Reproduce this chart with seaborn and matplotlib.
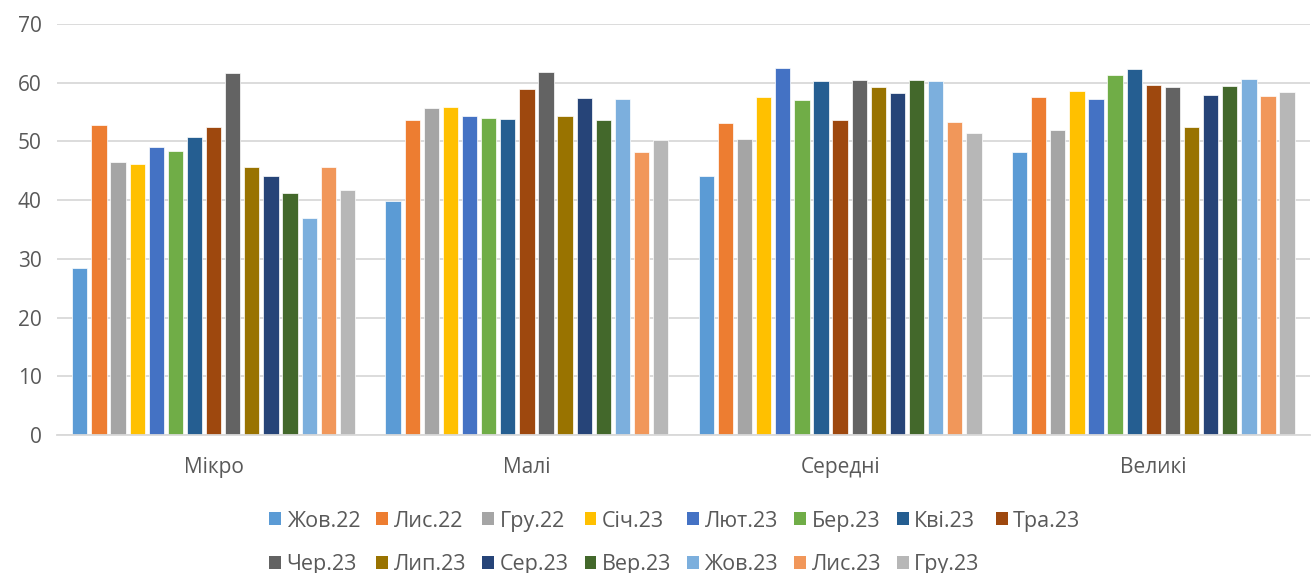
import matplotlib
matplotlib.use("Agg")
import matplotlib.pyplot as plt
import seaborn as sns
import pandas as pd
from matplotlib.patches import Patch

categories = ["Мікро", "Малі", "Середні", "Великі"]
months = ["Жов.22", "Лис.22", "Гру.22", "Січ.23", "Лют.23", "Бер.23", "Кві.23", "Тра.23",
          "Чер.23", "Лип.23", "Сер.23", "Вер.23", "Жов.23", "Лис.23", "Гру.23"]
mikro = [28.5, 52.8, 46.5, 46.2, 49.1, 48.4, 50.8, 52.4, 61.7, 45.6, 44.2, 41.3, 37.0, 45.6, 41.8]
mali = [39.8, 53.6, 55.7, 55.8, 54.4, 54.0, 53.9, 59.0, 61.9, 54.3, 57.4, 53.7, 57.3, 48.2, 50.3]
seredni = [44.2, 53.1, 50.5, 57.5, 62.6, 57.1, 60.3, 53.7, 60.5, 59.3, 58.3, 60.4, 60.3, 53.4, 51.5]
velyki = [48.2, 57.5, 52.0, 58.6, 57.3, 61.3, 62.4, 59.6, 59.2, 52.5, 58.0, 59.5, 60.7, 57.8, 58.5]
colors = ["#5B9BD5", "#ED7D31", "#A5A5A5", "#FFC000", "#4472C4", "#70AD47", "#255E91", "#9E480E",
          "#636363", "#997300", "#264478", "#43682B", "#7CAFDD", "#F1975A", "#B7B7B7"]

rows = []
for cat, vals in zip(categories, [mikro, mali, seredni, velyki]):
    for m, v in zip(months, vals):
        rows.append({"cat": cat, "month": m, "value": v})
df = pd.DataFrame(rows)

sns.set_theme(style="white")
plt.rcParams["font.family"] = ["Open Sans", "DejaVu Sans"]

fig = plt.figure(figsize=(13.13, 5.73), dpi=100)
ax = fig.add_axes([0.0434, 0.2408, 0.9543, 0.7172])

sns.barplot(data=df, x="cat", y="value", hue="month", order=categories, hue_order=months,
            palette=colors, width=0.915, gap=0.2, ax=ax, legend=False,
            edgecolor="white", linewidth=0.5, saturation=1)

ax.set_ylim(0, 70)
ax.set_xlim(-0.5, 3.5)
ax.set_yticks(range(0, 71, 10))
ax.yaxis.grid(True, color="#D9D9D9", linewidth=1.3)
ax.set_axisbelow(True)
for s in ["left", "right", "top"]:
    ax.spines[s].set_visible(False)
ax.spines["bottom"].set_color("#D9D9D9")
ax.spines["bottom"].set_linewidth(1.3)
ax.set_xlabel("")
ax.set_ylabel("")
ax.set_xticks([0, 1, 2, 3])
ax.set_xticklabels(categories)
ax.set_xticks([-0.5, 0.5, 1.5, 2.5, 3.5], minor=True)
ax.tick_params(axis="x", which="major", length=0, pad=16, labelsize=15, labelcolor="#595959")
ax.tick_params(axis="x", which="minor", length=7, color="#D9D9D9", width=1.3, direction="out")
ax.tick_params(axis="y", length=0, pad=11, labelsize=15, labelcolor="#595959")

# legend laid out row-wise: 8 entries in the first row, 7 in the second
row1 = list(range(8))
row2 = list(range(8, 15))
order = []
for i in range(8):
    order.append(row1[i])
    if i < len(row2):
        order.append(row2[i])
handles = [Patch(facecolor=colors[i], edgecolor="none") for i in order]
labels = [months[i] for i in order]
fig.legend(handles, labels, loc="upper center", bbox_to_anchor=(0.514, 0.124), ncol=8,
           frameon=False, fontsize=15.5, labelcolor="#595959",
           handlelength=0.55, handleheight=0.55, handletextpad=0.25, columnspacing=0.75,
           labelspacing=1.04, borderaxespad=0)

fig.savefig("out.png", dpi=100)
